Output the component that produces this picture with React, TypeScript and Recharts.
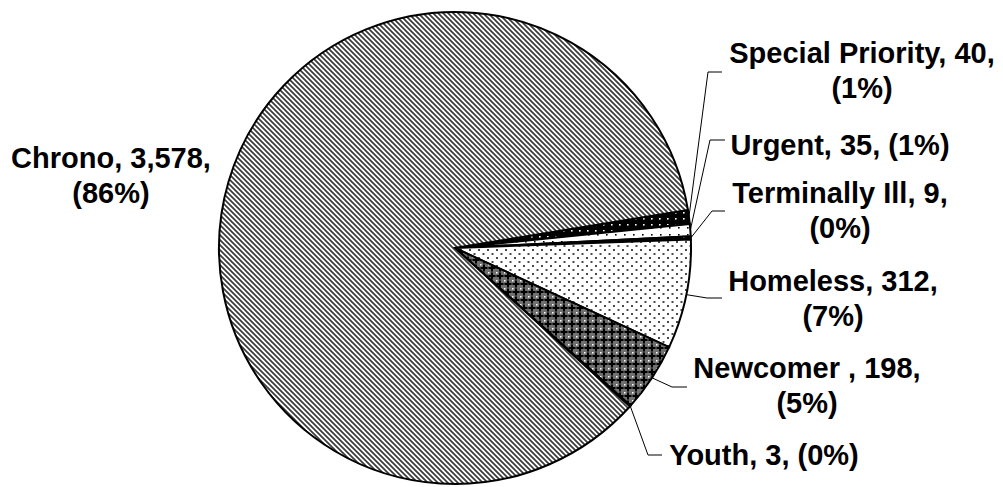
import React from 'react';
import { PieChart, Pie, Cell } from 'recharts';

const categories = ['Special Priority', 'Urgent', 'Terminally Ill', 'Homeless', 'Newcomer ', 'Youth', 'Chrono'];
const counts = [40, 35, 9, 312, 198, 3, 3578];

const total = counts.reduce((s, v) => s + v, 0);
const data = categories.map((name, i) => ({ name, value: counts[i] }));

// pattern fill per slice, same order as categories
const fills = ['url(#pDark)', 'url(#pSparse)', 'url(#pDark)', 'url(#pDots)', 'url(#pCheck)', 'url(#pYouth)', 'url(#pChrono)'];

// label placement: first baseline, centre x, elbow + end of the leader line
const labelLayout = [
  { x: 862, y: 63, wrap: true, elbow: [708, 72], end: [722, 72] },
  { x: 840, y: 155, wrap: false, elbow: [710, 140], end: [725, 140] },
  { x: 840, y: 203, wrap: true, elbow: [712, 211], end: [725, 211] },
  { x: 833, y: 291, wrap: true, elbow: [707, 298], end: [722, 298] },
  { x: 807, y: 378, wrap: true, elbow: [672, 387], end: [687, 387] },
  { x: 764, y: 465, wrap: false, elbow: [648, 455], end: [662, 455] },
  { x: 111, y: 168, wrap: true, elbow: null, end: null },
];

const RADIAN = Math.PI / 180;
const FONT = '"Liberation Sans", Arial, sans-serif';

const renderLabel = (props: any) => {
  const { cx, cy, midAngle, outerRadius, index } = props;
  const lay = labelLayout[index];
  const value = counts[index];
  const pct = `(${Math.round((value / total) * 100)}%)`;
  const head = `${categories[index]}, ${value.toLocaleString('en-US')},`;
  const ex = cx + outerRadius * Math.cos(-midAngle * RADIAN);
  const ey = cy + outerRadius * Math.sin(-midAngle * RADIAN);
  return (
    <g key={`lbl-${index}`}>
      {lay.elbow && (
        <polyline
          points={`${ex},${ey} ${lay.elbow[0]},${lay.elbow[1]} ${lay.end![0]},${lay.end![1]}`}
          fill="none"
          stroke="#000"
          strokeWidth={1}
        />
      )}
      <text x={lay.x} y={lay.y} textAnchor="middle" fontFamily={FONT} fontWeight="bold" fontSize={29} fill="#000">
        {lay.wrap ? head : `${head} ${pct}`}
      </text>
      {lay.wrap && (
        <text x={lay.x} y={lay.y + 35} textAnchor="middle" fontFamily={FONT} fontWeight="bold" fontSize={29} fill="#000">
          {pct}
        </text>
      )}
    </g>
  );
};

export default function App() {
  return (
    <div style={{ position: 'absolute', left: 0, top: 0, background: '#fff' }}>
      <PieChart width={1003} height={487} margin={{ top: 0, right: 0, bottom: 0, left: 0 }}>
        <defs>
          <pattern id="pChrono" width="5" height="5" patternUnits="userSpaceOnUse">
            <rect width="5" height="5" fill="#fff" />
            <path d="M0,0 L5,5 M-1,4 L1,6 M4,-1 L6,1" stroke="#3a3a3a" strokeWidth="1.7" />
          </pattern>
          <pattern id="pDark" width="8" height="6" patternUnits="userSpaceOnUse">
            <rect width="8" height="6" fill="#000" />
            <rect x="3" y="2" width="1.6" height="1.6" fill="#fff" />
          </pattern>
          <pattern id="pSparse" width="9" height="7" patternUnits="userSpaceOnUse">
            <rect width="9" height="7" fill="#fff" />
            <rect x="3" y="3" width="1.6" height="1.6" fill="#000" />
          </pattern>
          <pattern id="pDots" width="9" height="8" patternUnits="userSpaceOnUse">
            <rect width="9" height="8" fill="#fff" />
            <rect x="1" y="1" width="2" height="2" fill="#4a4a4a" />
            <rect x="5.5" y="5" width="2" height="2" fill="#4a4a4a" />
          </pattern>
          <pattern id="pCheck" width="8" height="8" patternUnits="userSpaceOnUse">
            <rect width="8" height="8" fill="#707070" />
            <rect x="3" y="0.5" width="2" height="7" fill="#000" />
            <rect x="0.5" y="3" width="7" height="2" fill="#000" />
            <rect x="0" y="0" width="1.5" height="1.5" fill="#fff" />
          </pattern>
          <pattern id="pYouth" width="4" height="4" patternUnits="userSpaceOnUse">
            <rect width="4" height="4" fill="#fff" />
            <path d="M0,2 L4,2" stroke="#000" strokeWidth="1" />
          </pattern>
        </defs>
        <Pie
          data={data}
          dataKey="value"
          nameKey="name"
          cx={455}
          cy={248}
          outerRadius={236}
          startAngle={9.3}
          endAngle={-350.7}
          stroke="#000"
          strokeWidth={2}
          label={renderLabel}
          labelLine={false}
          isAnimationActive={false}
        >
          {data.map((entry, i) => (
            <Cell key={`cell-${i}`} fill={fills[i]} />
          ))}
        </Pie>
      </PieChart>
    </div>
  );
}
